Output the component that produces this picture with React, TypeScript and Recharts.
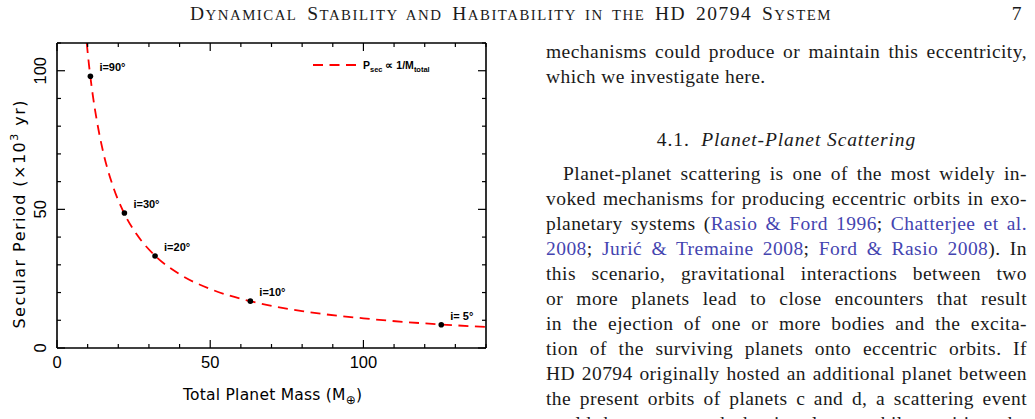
import {
  ComposedChart,
  Line,
  Scatter,
  XAxis,
  YAxis,
  Label,
  Legend,
} from "recharts";

// dashed P_sec ∝ 1/M_total curve, read along its length
const CURVE_MASS = [9.7, 10.5, 11.5, 13, 15, 18, 22, 26, 32, 40, 50, 63, 80, 100, 125, 140];
const CURVE_PERIOD = [110, 101.5, 92.6, 82, 71, 59.2, 48.4, 41, 33.3, 26.6, 21.3, 16.9, 13.3, 10.7, 8.5, 7.6];

// N-body secular periods at each inclination
const POINT_MASS = [10.9, 22.0, 32.0, 63.1, 125.4];
const POINT_PERIOD = [98.0, 48.7, 33.2, 16.9, 8.4];
const POINT_LABELS = ["i=90°", "i=30°", "i=20°", "i=10°", "i= 5°"];

const X_TICKS = [0, 10, 20, 30, 40, 50, 60, 70, 80, 90, 100, 110, 120, 130, 140];
const Y_TICKS = [0, 10, 20, 30, 40, 50, 60, 70, 80, 90, 100, 110];
const MAJOR = [0, 50, 100];

const curveData = CURVE_MASS.map((m, i) => ({ mass: m, period: CURVE_PERIOD[i] }));
const pointData = POINT_MASS.map((m, i) => ({ mass: m, period: POINT_PERIOD[i], label: POINT_LABELS[i] }));

const SANS = "'Liberation Sans', Arial, sans-serif";
const WIDE_SANS = "'DejaVu Sans', sans-serif";
const SERIF = "'Liberation Serif', 'Times New Roman', serif";
const INK = "#000";
const CITE = "#4444b0";

const BottomTick = ({ x, y, payload }: any) => {
  const major = MAJOR.includes(payload.value);
  return (
    <g>
      <line x1={x} x2={x} y1={y} y2={y - (major ? 8 : 4)} stroke={INK} strokeWidth={1.2} />
      {major && (
        <text x={x} y={y + 19.5} textAnchor="middle" fontFamily={SANS} fontSize={16.5} fill={INK}>
          {payload.value}
        </text>
      )}
    </g>
  );
};

const TopTick = ({ x, y, payload }: any) => {
  const major = MAJOR.includes(payload.value);
  return <line x1={x} x2={x} y1={y} y2={y + (major ? 8 : 4)} stroke={INK} strokeWidth={1.2} />;
};

const LeftTick = ({ x, y, payload }: any) => {
  const major = MAJOR.includes(payload.value);
  return (
    <g>
      <line x1={x} x2={x + (major ? 8 : 4)} y1={y} y2={y} stroke={INK} strokeWidth={1.2} />
      {major && (
        <text
          transform={`translate(${x - 11.5},${y}) rotate(-90)`}
          textAnchor="middle"
          fontFamily={SANS}
          fontSize={16.5}
          fill={INK}
        >
          {payload.value}
        </text>
      )}
    </g>
  );
};

const RightTick = ({ x, y, payload }: any) => {
  const major = MAJOR.includes(payload.value);
  return <line x1={x} x2={x - (major ? 8 : 4)} y1={y} y2={y} stroke={INK} strokeWidth={1.2} />;
};

const XTitle = ({ viewBox }: any) => (
  <text
    x={viewBox.x + viewBox.width / 2 + 1}
    y={viewBox.y + 52}
    textAnchor="middle"
    fontFamily={WIDE_SANS}
    fontSize={15.5}
    fill={INK}
    textLength={179}
    lengthAdjust="spacing"
  >
    Total Planet Mass (M
    <tspan fontSize={12} dy={4}>⊕</tspan>
    <tspan dy={-4}>)</tspan>
  </text>
);

const YTitle = ({ viewBox }: any) => (
  <text
    transform={`translate(25,${viewBox.y + viewBox.height / 2 + 19}) rotate(-90)`}
    textAnchor="middle"
    fontFamily={WIDE_SANS}
    fontSize={16}
    fill={INK}
    textLength={228}
    lengthAdjust="spacing"
  >
    Secular Period (×10
    <tspan fontSize={11} dy={-7}>3</tspan>
    <tspan dy={7}> yr)</tspan>
  </text>
);

const PointMark = ({ cx, cy, payload }: any) => (
  <g>
    <circle cx={cx} cy={cy} r={2.8} fill={INK} />
    <text
      x={cx + 9}
      y={cy - 5}
      fontFamily={SANS}
      fontWeight="bold"
      fontSize={11}
      fill={INK}
      style={{ whiteSpace: "pre" }}
    >
      {payload.label}
    </text>
  </g>
);

const CurveKey = () => (
  <svg width={140} height={18}>
    <line x1={1} x2={45} y1={9} y2={9} stroke="#f00" strokeWidth={1.8} strokeDasharray="10 6.5" />
    <text x={51} y={13} fontFamily={SANS} fontWeight="bold" fontSize={10.5} fill={INK}>
      P<tspan fontSize={7.5} dy={2.5}>sec</tspan>
      <tspan dy={-2.5}> ∝ 1/M</tspan>
      <tspan fontSize={7.5} dy={2.5}>total</tspan>
    </text>
  </svg>
);

const PeriodChart = () => (
  <ComposedChart width={520} height={419} margin={{ top: 0, right: 0, bottom: 0, left: 0 }}>
    <XAxis
      xAxisId="bottom"
      type="number"
      dataKey="mass"
      domain={[0, 140]}
      ticks={X_TICKS}
      interval={0}
      allowDataOverflow
      height={71}
      tickSize={0}
      tickMargin={0}
      tickLine={false}
      tick={<BottomTick />}
      axisLine={{ stroke: INK, strokeWidth: 1.6 }}
    >
      <Label content={<XTitle />} />
    </XAxis>
    <XAxis
      xAxisId="top"
      orientation="top"
      type="number"
      dataKey="mass"
      domain={[0, 140]}
      ticks={X_TICKS}
      interval={0}
      allowDataOverflow
      height={43}
      tickSize={0}
      tickMargin={0}
      tickLine={false}
      tick={<TopTick />}
      axisLine={{ stroke: INK, strokeWidth: 1.6 }}
    />
    <YAxis
      yAxisId="left"
      type="number"
      domain={[0, 110]}
      ticks={Y_TICKS}
      interval={0}
      allowDataOverflow
      width={57}
      tickSize={0}
      tickMargin={0}
      tickLine={false}
      tick={<LeftTick />}
      axisLine={{ stroke: INK, strokeWidth: 1.6 }}
    >
      <Label content={<YTitle />} />
    </YAxis>
    <YAxis
      yAxisId="right"
      orientation="right"
      type="number"
      domain={[0, 110]}
      ticks={Y_TICKS}
      interval={0}
      allowDataOverflow
      width={34}
      tickSize={0}
      tickMargin={0}
      tickLine={false}
      tick={<RightTick />}
      axisLine={{ stroke: INK, strokeWidth: 1.6 }}
    />
    <Legend
      layout="vertical"
      align="center"
      verticalAlign="middle"
      content={<CurveKey />}
      wrapperStyle={{ left: 312, top: 56, width: "auto" }}
    />
    <Line
      xAxisId="bottom"
      yAxisId="left"
      data={curveData}
      dataKey="period"
      type="monotone"
      stroke="#f00"
      strokeWidth={1.8}
      strokeDasharray="10 6.5"
      dot={false}
      activeDot={false}
      isAnimationActive={false}
    />
    <Scatter
      xAxisId="bottom"
      yAxisId="left"
      data={pointData}
      dataKey="period"
      shape={<PointMark />}
      isAnimationActive={false}
    />
  </ComposedChart>
);

// one justified line of the text column, placed by its baseline
const Row = ({ base, children, last = false, indent = 0 }: any) => (
  <div
    style={{
      position: "absolute",
      left: 546 + indent,
      width: 481 - indent,
      top: base - 19,
      height: 25,
      lineHeight: "25px",
      whiteSpace: "nowrap",
      textAlign: last ? "left" : "justify",
      textAlignLast: last ? "left" : "justify",
    }}
  >
    {children}
  </div>
);

const Cite = ({ children }: any) => <span style={{ color: CITE }}>{children}</span>;

// small-capital run for the running head
const Sc = ({ children }: any) => <span style={{ fontSize: "0.76em" }}>{children}</span>;

export default function App() {
  return (
    <div
      style={{
        position: "relative",
        width: 1035,
        height: 419,
        overflow: "hidden",
        background: "#fff",
        fontFamily: SERIF,
        fontSize: 19.5,
        letterSpacing: 0.45,
        color: "#1a1a1a",
      }}
    >
      <style>{"body{margin:0}"}</style>
      <div style={{ position: "absolute", left: 0, top: 0, letterSpacing: 0 }}>
        <PeriodChart />
      </div>

      <div
        style={{
          position: "absolute",
          left: 190,
          width: 642,
          top: 1,
          lineHeight: "25px",
          whiteSpace: "nowrap",
          textAlign: "justify",
          textAlignLast: "justify",
          letterSpacing: 1.5,
        }}
      >
        D<Sc>YNAMICAL</Sc> S<Sc>TABILITY AND</Sc> H<Sc>ABITABILITY IN THE</Sc> HD 20794 S<Sc>YSTEM</Sc>
      </div>
      <div style={{ position: "absolute", left: 1000, width: 22, top: 1, lineHeight: "25px", textAlign: "right" }}>
        7
      </div>

      <Row base={58}>mechanisms could produce or maintain this eccentricity,</Row>
      <Row base={83} last>
        which we investigate here.
      </Row>

      <div
        style={{
          position: "absolute",
          left: 546,
          width: 481,
          top: 146 - 19,
          lineHeight: "25px",
          textAlign: "center",
          whiteSpace: "pre",
          letterSpacing: 0.9,
        }}
      >
        {"4.1.  "}
        <i>Planet-Planet Scattering</i>
      </div>

      <Row base={180} indent={17}>
        Planet-planet scattering is one of the most widely in-
      </Row>
      <Row base={205}>voked mechanisms for producing eccentric orbits in exo-</Row>
      <Row base={230}>
        planetary systems (<Cite>Rasio &amp; Ford 1996</Cite>; <Cite>Chatterjee et al.</Cite>
      </Row>
      <Row base={255}>
        <Cite>2008</Cite>; <Cite>Jurić &amp; Tremaine 2008</Cite>; <Cite>Ford &amp; Rasio 2008</Cite>).  In
      </Row>
      <Row base={280}>this scenario, gravitational interactions between two</Row>
      <Row base={305}>or more planets lead to close encounters that result</Row>
      <Row base={330}>in the ejection of one or more bodies and the excita-</Row>
      <Row base={355}>tion of the surviving planets onto eccentric orbits.  If</Row>
      <Row base={380}>HD 20794 originally hosted an additional planet between</Row>
      <Row base={405}>the present orbits of planets c and d, a scattering event</Row>
      <Row base={430}>could have removed the interloper while exciting the</Row>
    </div>
  );
}
